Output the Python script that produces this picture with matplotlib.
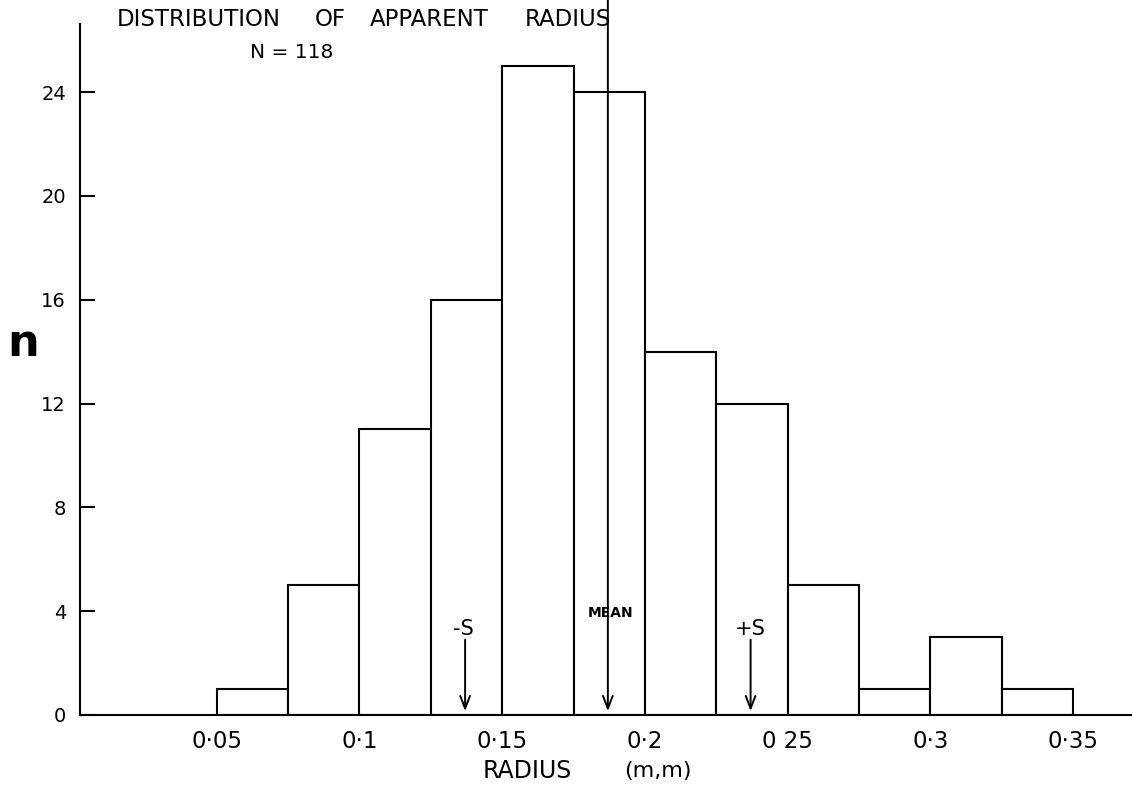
import numpy as np
import matplotlib.pyplot as plt

plt.rcParams['font.family'] = ['DejaVu Sans']

# 半径分组 (mm) 和频数
bin_edges = [0.05, 0.075, 0.1, 0.125, 0.15, 0.175, 0.2, 0.225, 0.25, 0.275, 0.3, 0.325, 0.35]
counts = [1, 5, 11, 16, 25, 24, 14, 12, 5, 1, 3, 1]
total_n = 118

# 均值与标准差位置
mean_r = 0.187
sd_r = 0.05

x_ticks = [0.05, 0.1, 0.15, 0.2, 0.25, 0.3, 0.35]
x_tick_labels = ['0·05', '0·1', '0·15', '0·2', '0 25', '0·3', '0·35']
y_ticks = [0, 4, 8, 12, 16, 20, 24]

W, H = 1132, 787


def fx(px):
    # 像素 -> 图坐标
    return px / W


def fy(py):
    return 1 - py / H


fig = plt.figure(figsize=(W / 100, H / 100), dpi=100)
ax = fig.add_axes([fx(80), fy(715), 1 - fx(80), fy(24) - fy(715)])

lw = 1.5
widths = np.diff(bin_edges)
ax.bar(bin_edges[:-1], counts, width=widths, align='edge',
       facecolor='white', edgecolor='black', linewidth=lw, zorder=2)

ax.set_xlim(0.0021, 0.3706)
ax.set_ylim(0, 26.62)

for side in ['top', 'right']:
    ax.spines[side].set_visible(False)
for side in ['left', 'bottom']:
    ax.spines[side].set_linewidth(lw)

ax.set_xticks(x_ticks)
ax.set_xticklabels(x_tick_labels, fontsize=16.5)
ax.tick_params(axis='x', length=0, pad=11)
ax.set_yticks(y_ticks)
ax.set_yticklabels([str(v) for v in y_ticks], fontsize=14)
ax.tick_params(axis='y', direction='in', length=11, width=lw, pad=10)

# 均值及 ±S 箭头
arrow = dict(arrowstyle='->,head_length=0.9,head_width=0.35', color='black', lw=1.4,
             shrinkA=0, shrinkB=0)
ax.annotate('', xy=(mean_r, 0.15), xytext=(mean_r, 27.6),
            arrowprops=arrow, annotation_clip=False, zorder=3)
ax.annotate('', xy=(mean_r - sd_r, 0.15), xytext=(mean_r - sd_r, 2.9),
            arrowprops=arrow, zorder=3)
ax.annotate('', xy=(mean_r + sd_r, 0.15), xytext=(mean_r + sd_r, 2.9),
            arrowprops=arrow, zorder=3)
ax.text(mean_r + 0.0008, 3.93, 'MEAN', fontsize=10, fontweight='bold', ha='center', va='center')
ax.text(mean_r - sd_r - 0.0005, 3.3, '-S', fontsize=15, ha='center', va='center')
ax.text(mean_r + sd_r, 3.3, '+S', fontsize=15, ha='center', va='center')

# 标题 (逐词排布)
title_words = ['DISTRIBUTION', 'OF', 'APPARENT', 'RADIUS']
title_x = [199, 330, 429, 568]
for word, px in zip(title_words, title_x):
    fig.text(fx(px), fy(20), word, fontsize=16.5, ha='center', va='center')
fig.text(fx(292), fy(53), f'N = {total_n}', fontsize=14.5, ha='center', va='center')

# 坐标轴标题
fig.text(fx(527), fy(771), 'RADIUS', fontsize=17, ha='center', va='center')
fig.text(fx(658), fy(771), '(m,m)', fontsize=16, ha='center', va='center')
fig.text(fx(23), fy(344), 'n', fontsize=32, fontweight='bold', ha='center', va='center')

fig.savefig('out.png', dpi=100)
